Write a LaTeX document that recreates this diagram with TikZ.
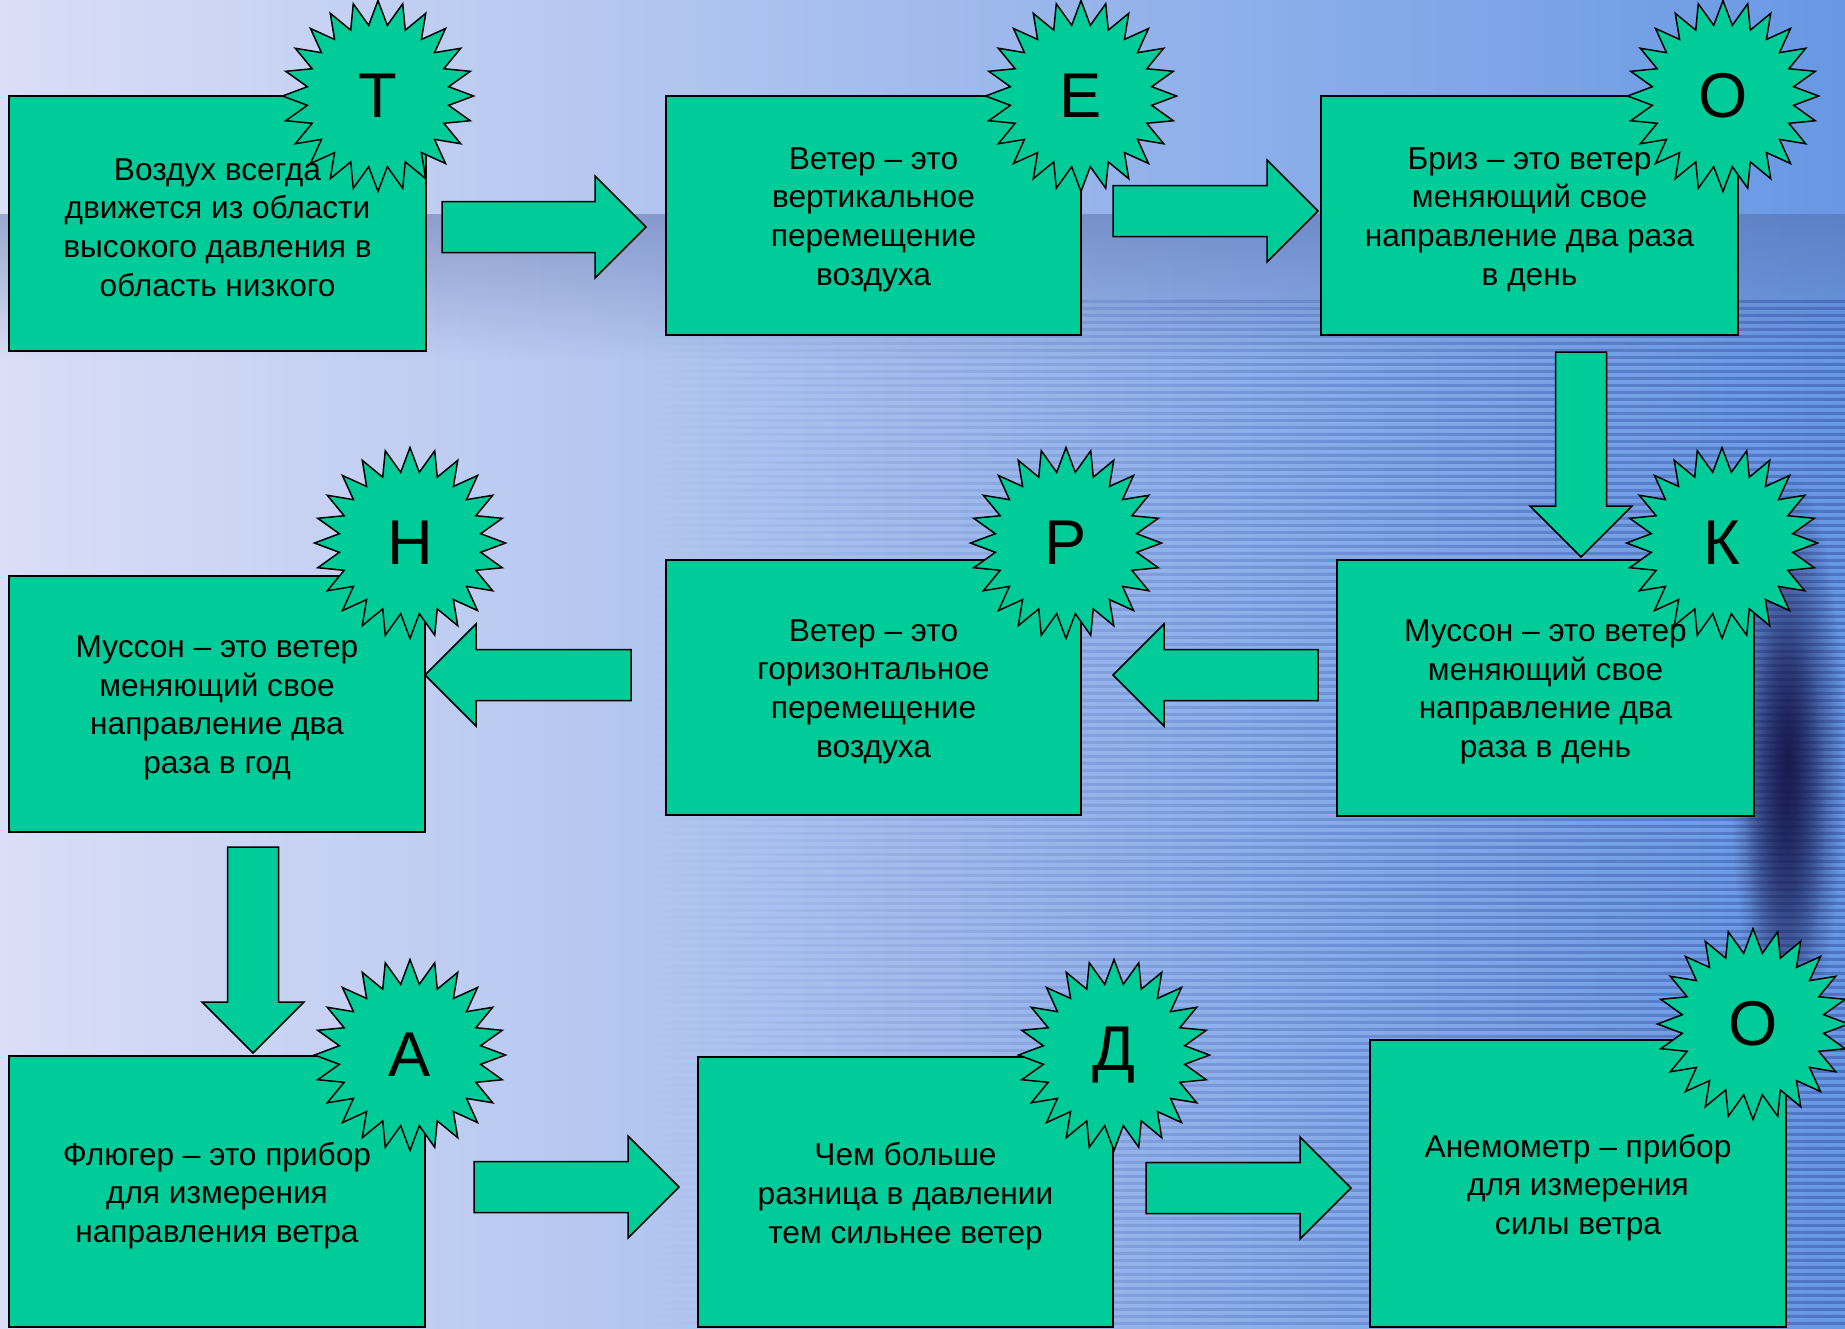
\documentclass[tikz,border=0pt]{standalone}
\usepackage{fontspec}
\setmainfont{Liberation Sans}
\usetikzlibrary{shapes.geometric,calc,fadings}

\definecolor{boxgreen}{RGB}{0,204,153}
\definecolor{bgleft}{RGB}{218,222,246}
\definecolor{bgmid}{RGB}{178,198,242}
\definecolor{bgright}{RGB}{104,152,228}
\definecolor{bgband}{RGB}{80,100,160}
\definecolor{bgstripe}{RGB}{56,88,170}
\definecolor{bgdark}{RGB}{24,26,80}

\tikzfading[name=bandfade, top color=transparent!55, bottom color=transparent!100]
\tikzfading[name=stripefade, left color=transparent!100, right color=transparent!45]
\tikzfading[name=blobfade, inner color=transparent!0, outer color=transparent!100]

\tikzset{
  box/.style={draw, line width=0.2mm, fill=boxgreen, inner sep=0pt},
  boxtext/.style={align=center, font=\fontsize{9}{11}\selectfont, yshift=-0.4mm},
  burst/.style={star, star points=24, star point ratio=1.34, draw,
    line width=0.15mm, fill=boxgreen, minimum size=19.1mm, inner sep=0pt,
    font=\fontsize{18}{20}\selectfont},
  bigarrow/.style={draw, line width=0.15mm, fill=boxgreen}
}

\begin{document}
\begin{tikzpicture}[x=0.1mm, y=-0.1mm]

\def\blockarrow#1#2{%
  \path ($(#2)!5.1mm!(#1)$) coordinate (hb);
  \filldraw[bigarrow] ($(#1)!2.55mm!90:(#2)$) -- ($(hb)!2.55mm!-90:(#1)$)
    -- ($(hb)!5.1mm!-90:(#1)$) -- (#2) -- ($(hb)!5.1mm!90:(#1)$)
    -- ($(hb)!2.55mm!90:(#1)$) -- ($(#1)!2.55mm!-90:(#2)$) -- cycle;
}

\useasboundingbox (0,0) rectangle (1845,1328);

% background
\shade[left color=bgleft, middle color=bgmid, right color=bgright] (0,0) rectangle (1845,1328);
\fill[bgband, path fading=bandfade] (0,214) rectangle (1845,360);
\fill[bgstripe, path fading=stripefade]
  \foreach \y in {300,307,...,1328} {(650,\y) rectangle (1845,\y+3)};
\fill[bgdark, path fading=blobfade] (1730,470) rectangle (1845,1050);
\fill[bgdark, opacity=0.6, path fading=blobfade] (1745,620) rectangle (1825,1000);

% boxes
\node[box, minimum width=41.7mm, minimum height=25.5mm,
  label={[boxtext]center:{Воздух всегда\\движется из области\\высокого давления в\\область низкого}}]
  (vozduh) at (217.5,223.5) {};
\node[box, minimum width=41.5mm, minimum height=23.9mm,
  label={[boxtext]center:{Ветер – это\\вертикальное\\перемещение\\воздуха}}]
  (vertikal) at (873.5,215.5) {};
\node[box, minimum width=41.7mm, minimum height=23.9mm,
  label={[boxtext]center:{Бриз – это ветер\\меняющий свое\\направление два раза\\в день}}]
  (briz) at (1529.5,215.5) {};
\node[box, minimum width=41.7mm, minimum height=25.6mm,
  label={[boxtext]center:{Муссон – это ветер\\меняющий свое\\направление два\\раза в день}}]
  (mussonden) at (1545.5,688) {};
\node[box, minimum width=41.5mm, minimum height=25.5mm,
  label={[boxtext]center:{Ветер – это\\горизонтальное\\перемещение\\воздуха}}]
  (gorizont) at (873.5,687.5) {};
\node[box, minimum width=41.6mm, minimum height=25.6mm,
  label={[boxtext]center:{Муссон – это ветер\\меняющий свое\\направление два\\раза в год}}]
  (mussongod) at (217,704) {};
\node[box, minimum width=41.6mm, minimum height=27.1mm,
  label={[boxtext]center:{Флюгер – это прибор\\для измерения\\направления ветра}}]
  (flyuger) at (217,1191.5) {};
\node[box, minimum width=41.5mm, minimum height=27mm,
  label={[boxtext]center:{Чем больше\\разница в давлении\\тем сильнее ветер}}]
  (raznica) at (905.5,1192) {};
\node[box, minimum width=41.6mm, minimum height=28.7mm,
  label={[boxtext]center:{Анемометр – прибор\\для измерения\\силы ветра}}]
  (anemometr) at (1578,1183.5) {};

% arrows
\coordinate (a1s) at (442,227);   \coordinate (a1e) at (646,227);
\coordinate (a2s) at (1113,211);  \coordinate (a2e) at (1318,211);
\coordinate (a3s) at (1581,352);  \coordinate (a3e) at (1581,557);
\coordinate (a4s) at (1318,675);  \coordinate (a4e) at (1113,675);
\coordinate (a5s) at (631,675);   \coordinate (a5e) at (425,675);
\coordinate (a6s) at (253,847);   \coordinate (a6e) at (253,1053);
\coordinate (a7s) at (474,1187);  \coordinate (a7e) at (679,1187);
\coordinate (a8s) at (1146,1188); \coordinate (a8e) at (1351,1188);
\blockarrow{a1s}{a1e}
\blockarrow{a2s}{a2e}
\blockarrow{a3s}{a3e}
\blockarrow{a4s}{a4e}
\blockarrow{a5s}{a5e}
\blockarrow{a6s}{a6e}
\blockarrow{a7s}{a7e}
\blockarrow{a8s}{a8e}

% letters
\node[burst] (st) at (378,96) {Т};
\node[burst] (se) at (1081,96) {Е};
\node[burst] (so) at (1723,96) {О};
\node[burst] (sk) at (1722,543) {К};
\node[burst] (sr) at (1066,543) {Р};
\node[burst] (sn) at (410,543) {Н};
\node[burst] (sa) at (410,1055) {А};
\node[burst] (sd) at (1114,1055) {Д};
\node[burst] (so2) at (1753,1024) {О};

\end{tikzpicture}
\end{document}
